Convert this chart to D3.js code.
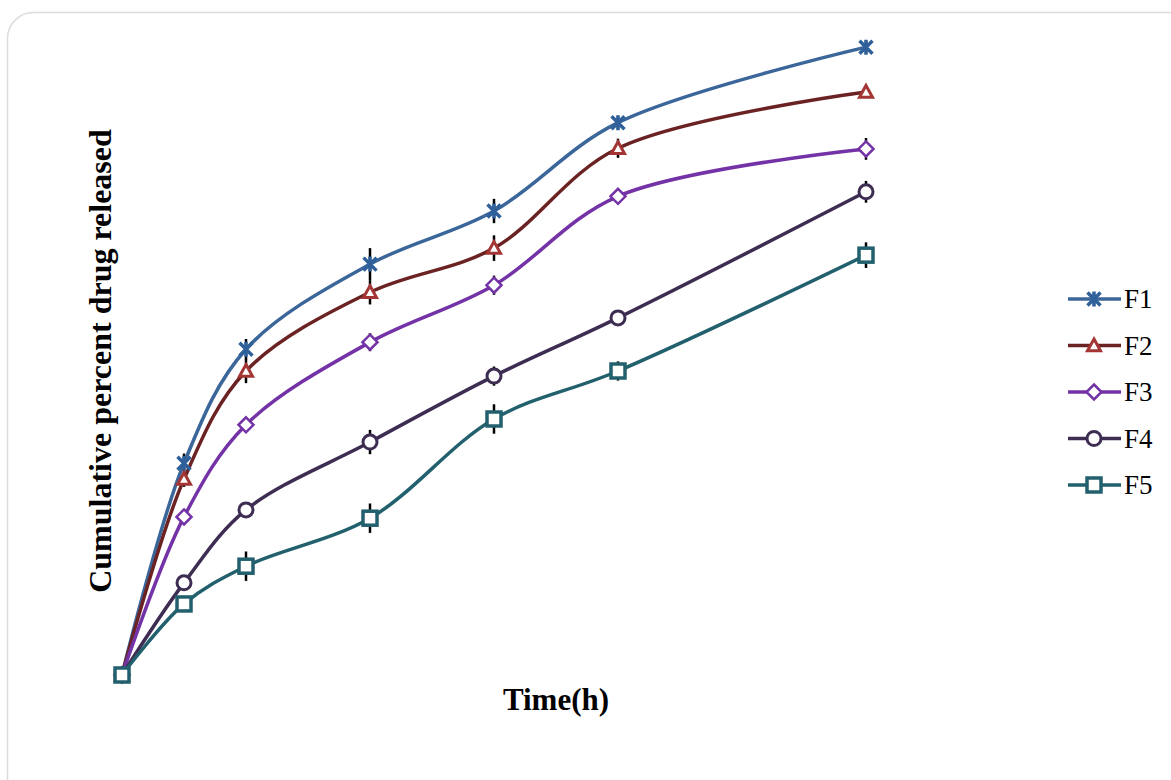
<!DOCTYPE html>
<html>
<head>
<meta charset="utf-8">
<script src="https://cdn.jsdelivr.net/npm/d3@7"></script>
<style>
  html, body { margin: 0; padding: 0; background: #fff; }
  svg { display: block; }
</style>
</head>
<body>
<svg id="chart" width="1171" height="780"></svg>
<script>
// Sampling times (h)
const times = [0, 0.5, 1, 2, 3, 4, 6];

// Formulation names
const seriesNames = ["F1", "F2", "F3", "F4", "F5"];

// Cumulative percent drug released
const f1 = [0, 33.1, 50.9, 64.2, 72.5, 86.3, 98.1];
const f2 = [0, 30.6, 47.5, 59.8, 66.7, 82.3, 91.1];
const f3 = [0, 24.7, 39.1, 52.0, 60.9, 74.8, 82.2];
const f4 = [0, 14.4, 25.8, 36.4, 46.7, 55.8, 75.5];
const f5 = [0, 11.1, 17.0, 24.5, 40.0, 47.5, 65.6];

// Standard deviations
const sd1 = [0, 1.5, 1.6, 2.5, 1.9, 1.0, 1.0];
const sd2 = [0, 1.2, 1.9, 1.9, 2.0, 1.5, 0.8];
const sd3 = [0, 1.0, 1.0, 1.4, 1.5, 1.1, 1.7];
const sd4 = [0, 1.2, 1.2, 1.9, 1.5, 1.2, 1.7];
const sd5 = [0, 0.8, 2.3, 2.3, 2.3, 1.5, 2.0];

const values = [f1, f2, f3, f4, f5];
const errors = [sd1, sd2, sd3, sd4, sd5];
const lineColors = ["#3b6699", "#6b2222", "#7332a6", "#3e2d52", "#22606e"];
const markerColors = ["#30609a", "#a33535", "#7332a6", "#3e2d52", "#22606e"];
const markerTypes = ["star", "triangle", "diamond", "circle", "square"];

const svg = d3.select("#chart");

// Rounded frame
svg.append("rect")
  .attr("x", 7.5).attr("y", 12.5)
  .attr("width", 1200).attr("height", 800)
  .attr("rx", 26).attr("ry", 26)
  .attr("fill", "#fff")
  .attr("stroke", "#dcdcdc")
  .attr("stroke-width", 1.5);

const x = d3.scaleLinear().domain([0, 6]).range([122, 866]);
const y = d3.scaleLinear().domain([0, 100]).range([675, 35]);

const series = seriesNames.map((name, i) => ({
  name,
  color: lineColors[i],
  mcolor: markerColors[i],
  marker: markerTypes[i],
  points: times.map((t, j) => ({ t, v: values[i][j], e: errors[i][j] }))
}));

// Error bars
const eb = svg.append("g").attr("class", "errorbars");
series.forEach(s => {
  eb.selectAll(null)
    .data(s.points.filter(p => p.e > 0))
    .join("line")
    .attr("x1", p => x(p.t)).attr("x2", p => x(p.t))
    .attr("y1", p => y(p.v + p.e)).attr("y2", p => y(p.v - p.e))
    .attr("stroke", "#000")
    .attr("stroke-width", 2.5);
});

// Smoothed lines
const line = d3.line()
  .x(p => x(p.t))
  .y(p => y(p.v))
  .curve(d3.curveCatmullRom.alpha(0.5));

svg.append("g").attr("class", "lines")
  .selectAll("path")
  .data(series)
  .join("path")
  .attr("d", s => line(s.points))
  .attr("fill", "none")
  .attr("stroke", s => s.color)
  .attr("stroke-width", 3.5);

// Marker drawing
function drawMarker(g, type, color, cx, cy) {
  if (type === "star") {
    const r = 6.5;
    g.append("path")
      .attr("d", `M${cx - r},${cy - r}L${cx + r},${cy + r}M${cx - r},${cy + r}L${cx + r},${cy - r}M${cx},${cy - r - 1}L${cx},${cy + r + 1}`)
      .attr("stroke", color).attr("stroke-width", 3.5).attr("fill", "none");
  } else if (type === "triangle") {
    const r = 6.5;
    g.append("path")
      .attr("d", `M${cx},${cy - r}L${cx + r},${cy + r * 0.8}L${cx - r},${cy + r * 0.8}Z`)
      .attr("stroke", color).attr("stroke-width", 3).attr("fill", "#fff");
  } else if (type === "diamond") {
    const r = 7.5;
    g.append("path")
      .attr("d", `M${cx},${cy - r}L${cx + r},${cy}L${cx},${cy + r}L${cx - r},${cy}Z`)
      .attr("stroke", color).attr("stroke-width", 2.5).attr("fill", "#fff");
  } else if (type === "circle") {
    g.append("circle")
      .attr("cx", cx).attr("cy", cy).attr("r", 7)
      .attr("stroke", color).attr("stroke-width", 3).attr("fill", "#fff");
  } else if (type === "square") {
    const r = 7;
    g.append("rect")
      .attr("x", cx - r).attr("y", cy - r)
      .attr("width", 2 * r).attr("height", 2 * r)
      .attr("stroke", color).attr("stroke-width", 3.5).attr("fill", "#fff");
  }
}

const mg = svg.append("g").attr("class", "markers");
series.forEach(s => {
  s.points.forEach(p => drawMarker(mg, s.marker, s.mcolor, x(p.t), y(p.v)));
});

// Axis titles
svg.append("text")
  .attr("x", 556).attr("y", 710)
  .attr("text-anchor", "middle")
  .attr("font-family", "'Liberation Serif', 'Times New Roman', serif")
  .attr("font-weight", "bold")
  .attr("font-size", 31)
  .attr("fill", "#000")
  .text("Time(h)");

svg.append("text")
  .attr("transform", "translate(111,361) rotate(-90)")
  .attr("text-anchor", "middle")
  .attr("font-family", "'Liberation Serif', 'Times New Roman', serif")
  .attr("font-weight", "bold")
  .attr("font-size", 32)
  .attr("fill", "#000")
  .text("Cumulative percent drug released");

// Legend
const legend = svg.append("g").attr("class", "legend");
series.forEach((s, i) => {
  const ly = 299 + i * 46.5;
  legend.append("line")
    .attr("x1", 1068).attr("x2", 1121)
    .attr("y1", ly).attr("y2", ly)
    .attr("stroke", s.color).attr("stroke-width", 3.5);
  drawMarker(legend, s.marker, s.mcolor, 1094, ly);
  legend.append("text")
    .attr("x", 1124).attr("y", ly + 9)
    .attr("font-family", "'Liberation Serif', 'Times New Roman', serif")
    .attr("font-size", 27)
    .attr("fill", "#000")
    .text(s.name);
});
</script>
</body>
</html>
